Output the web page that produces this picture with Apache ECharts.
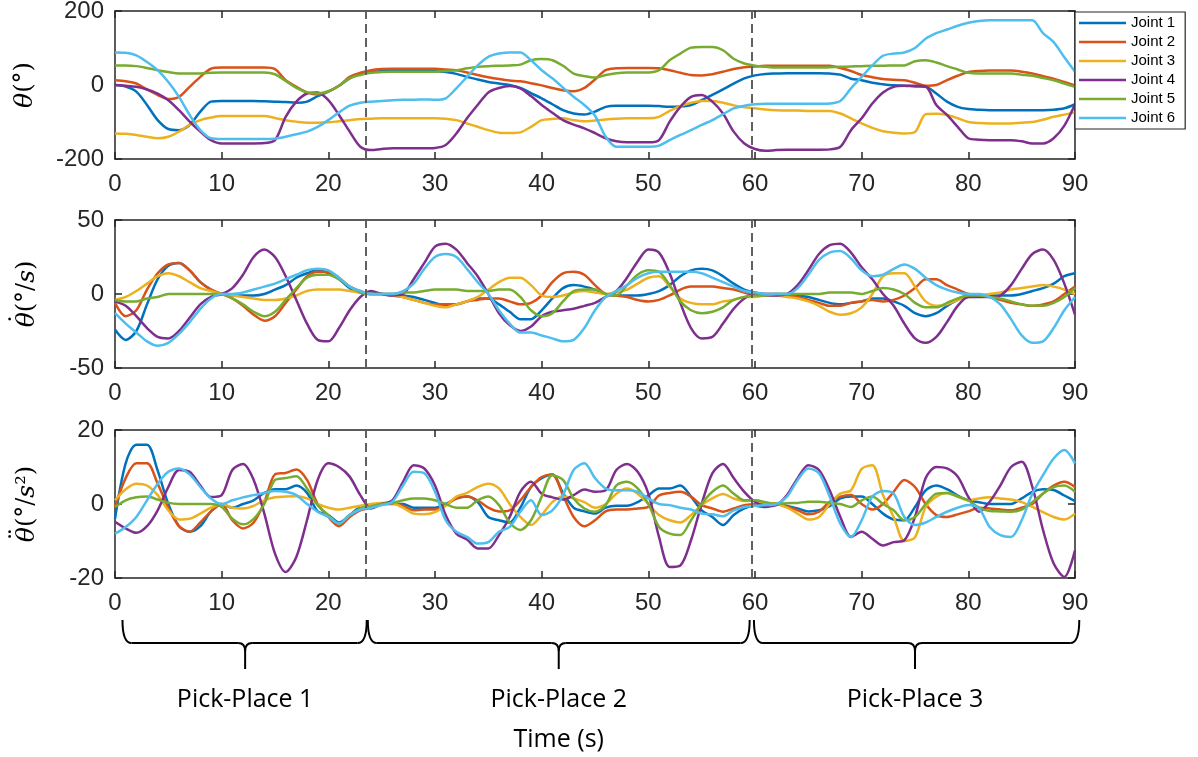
<!DOCTYPE html>
<html>
<head>
<meta charset="utf-8">
<script src="https://cdn.jsdelivr.net/npm/echarts/dist/echarts.min.js"></script>
<style>
  html, body { margin: 0; background: #fff; }
  #main { width: 1198px; height: 757px; }
</style>
</head>
<body>
<div id="main"></div>
<script>
// time samples (s)
const time = [0,1,2,3,4,5,6,7,8,9,10,11,12,13,14,15,16,17,18,19,20,21,22,23,24,25,26,27,28,29,30,
  31,32,33,34,35,36,37,38,39,40,41,42,43,44,45,46,47,48,49,50,51,52,53,54,55,56,57,58,59,60,
  61,62,63,64,65,66,67,68,69,70,71,72,73,74,75,76,77,78,79,80,81,82,83,84,85,86,87,88,89,90];

const jointNames = ['Joint 1', 'Joint 2', 'Joint 3', 'Joint 4', 'Joint 5', 'Joint 6'];
const jointColors = ['#0072BD', '#D95319', '#EDB120', '#7E2F8E', '#77AC30', '#4DBEEE'];

// joint angle (deg)
const posJ1 = [0,-4,-18,-54,-95,-119,-122,-108,-72,-45, -43,-43,-43,-43,-44,-45,-46,-48,-45,-30,
  -18,-2,18,30,35,37,38,38,38,38, 37,35,30,22,15,8,4,0,-8,-22, -36,-52,-68,-77,-80,-72,-59,-56,-56,-56,
  -56,-57,-59,-58,-54,-41,-27,-12,4,18, 26,30,31,32,32,32,32,31,28,17, 13,6,2,-1,-2,-4,-5,-23,-45,-59,
  -65,-67,-68,-68,-68,-68,-68,-68,-67,-63, -52];
const posJ2 = [13,10,4,-12,-27,-38,-32,-5,22,44, 47,47,47,47,47,43,13,-5,-20,-26,
  -17,-2,22,33,40,43,44,44,44,44, 44,42,40,34,27,21,16,12,10,5, -1,-8,-14,-17,-8,15,40,45,46,46,
  46,45,40,33,27,26,29,36,43,48, 50,52,52,52,52,52,52,52,46,38, 27,21,16,14,13,6,-2,0,13,25,
  35,38,39,39,39,36,31,24,17,8, -1];
const posJ3 = [-131,-132,-135,-140,-144,-140,-126,-108,-95,-88, -84,-84,-84,-84,-84,-89,-95,-99,-102,-102,
  -101,-98,-95,-92,-91,-90,-90,-90,-90,-90, -90,-91,-95,-104,-113,-122,-129,-130,-128,-113,
  -95,-92,-90,-95,-98,-96,-93,-91,-90,-90, -90,-86,-70,-57,-48,-43,-43,-48,-55,-60,
  -63,-66,-68,-69,-69,-70,-70,-70,-77,-90, -104,-116,-125,-129,-131,-127,-79,-78,-81,-90,
  -100,-103,-104,-104,-104,-102,-100,-94,-86,-80, -74];
const posJ4 = [0,-2,-5,-12,-23,-41,-68,-99,-126,-149, -158,-158,-158,-158,-157,-149,-86,-45,-23,-20,
  -41,-81,-126,-167,-176,-173,-171,-171,-171,-171, -170,-162,-131,-90,-54,-20,-8,-3,-9,-30,
  -54,-75,-95,-107,-117,-130,-144,-152,-155,-155, -155,-149,-99,-59,-32,-27,-45,-77,-126,-158,
  -173,-178,-176,-175,-175,-175,-175,-174,-167,-122, -90,-50,-20,-5,-2,-2,-4,-54,-81,-113,
  -144,-148,-149,-149,-149,-152,-158,-158,-144,-110, -52];
const posJ5 = [53,53,51,46,40,35,31,31,31,33, 34,34,34,34,34,29,11,-8,-20,-23,
  -17,-2,18,27,33,35,36,36,36,36, 36,38,40,45,49,51,52,53,55,67, 70,67,52,31,24,20,27,32,34,34,
  34,40,67,85,101,103,103,94,71,58, 52,49,47,47,47,47,47,48,49,50, 51,52,52,53,53,64,67,61,51,42,
  33,31,31,31,31,28,25,19,13,4, -5];
const posJ6 = [88,87,80,62,40,8,-32,-81,-122,-144, -146,-146,-146,-146,-146,-145,-140,-133,-126,-113,
  -95,-74,-56,-48,-45,-43,-41,-40,-40,-39, -40,-36,-9,22,53,76,85,88,88,67, 40,18,-7,-32,-54,-83,-140,-167,-167,-167,
  -167,-164,-149,-135,-122,-108,-95,-79,-63,-56, -52,-51,-51,-51,-51,-51,-51,-50,-43,-9,
  22,53,79,85,88,100,125,140,150,160, 168,173,175,175,175,175,175,140,116,75, 36];

// joint velocity (deg/s)
const velJ1 = [-24,-31,-25,-7,10,19,21,16,8,3, 0,-1,-1,-1,0,3,6,11,14,16, 14,10,4,1,0,0,0,-1,-2,-4,
  -6,-8,-7,-5,-3,-3,-7,-12,-17,-17, -11,-3,4,6,5,3,0,-1,-1,-1, 0,2,6,12,16,17,16,12,7,3,
  1,0,0,0,-1,-2,-4,-6,-7,-6, -5,-3,-3,-5,-8,-13,-15,-13,-8,-4, -1,-1,-1,-1,-1,0,2,4,7,12, 14];
const velJ2 = [-6,-15,-11,3,14,20,21,16,8,3, 0,-3,-8,-14,-18,-15,-6,3,12,15, 15,11,5,2,0,0,-1,-2,-4,-6,
  -7,-7,-7,-5,-4,-3,-3,-5,-7,-6, -1,8,14,15,13,6,0,-1,-2,-4, -5,-4,-1,3,5,5,5,4,3,1,
  -1,0,0,-1,-2,-4,-6,-8,-8,-6, -5,-4,-5,-4,-1,4,10,10,6,3, 0,-1,-2,-4,-6,-7,-8,-7,-5,0, 5];
const velJ3 = [-4,-2,2,7,12,14,12,8,4,2, 0,-1,-2,-3,-4,-4,-3,-1,2,3, 3,3,2,1,0,0,-1,-2,-4,-6,
  -8,-9,-7,-5,-2,3,8,11,11,6, -1,-2,-1,1,2,1,0,1,3,7, 11,12,5,-3,-6,-7,-7,-5,-4,-2,
  -2,-1,-1,-2,-3,-5,-8,-12,-14,-13, -9,0,12,14,14,5,-5,-8,-7,-4, -2,-1,0,1,3,4,5,6,5,3, 0];
const velJ4 = [-5,-8,-15,-23,-29,-30,-25,-16,-7,-2, 0,4,13,25,30,25,12,-4,-20,-31, -32,-23,-11,-2,2,0,-1,0,10,21,
  32,34,30,21,12,0,-13,-21,-25,-22, -15,-12,-11,-10,-8,-6,-2,2,11,22, 30,28,14,-6,-23,-30,-29,-20,-10,-3,
  0,-1,-1,0,6,16,27,33,34,28, 18,10,0,-8,-20,-30,-33,-29,-19,-8, -2,-2,-2,-1,6,17,27,30,23,7, -14];
const velJ5 = [-4,-5,-5,-3,-2,0,0,0,0,0, 0,-3,-7,-12,-15,-12,-4,4,11,13, 13,10,5,1,0,0,0,1,1,2,
  3,3,3,2,2,2,3,3,-2,-11, -15,-13,-5,2,3,3,0,-1,6,13, 16,15,6,-5,-11,-13,-12,-9,-4,-2,
  -1,-1,0,0,0,0,0,1,1,1, 0,2,4,3,0,-6,-9,-9,-6,-3, -1,-1,-2,-3,-5,-7,-8,-8,-6,-2, 4];
const velJ6 = [-13,-20,-26,-32,-35,-33,-27,-19,-10,-3, 0,0,1,3,5,7,10,13,16,17, 16,11,5,2,0,0,0,2,7,17,
  25,27,25,17,8,0,-11,-20,-26,-26, -28,-30,-32,-31,-23,-11,-2,2,6,11, 14,15,15,15,15,14,11,8,5,2,
  1,0,0,0,4,13,23,28,29,24, 16,12,13,17,20,17,11,6,3,1, 0,0,-2,-7,-17,-28,-33,-32,-23,-11, -2];

// joint acceleration (deg/s^2)
const accJ1 = [-4,11,16,16,9,0,-6,-7.5,-6,-2, 0,-1,0,1,3,4,4,5,3,-2, -3,-5,-3,-1,-1,0,0,0,-1,-1,
  -1,0,1.5,2,0.5,-3.5,-4.4,-5,-1,4.6, 7,8,3,-1,-2,-2.6,-1,-0.5,-0.5,0.5, 2.3,4.2,4.2,5,2,-1.7,-3.5,-5.7,-3,-1.2,
  -0.5,-0.8,0,-0.5,-1.2,-2,-1.7,-0.6,1.5,2, 2,0,-2.6,-4.2,-4.4,-0.8,3.7,5,4,2.3, 1,0.5,0,0,0,1.5,3.3,4,3.8,2.3, 0.8];
const accJ2 = [-0.8,7,11,11,5.5,-1,-6,-7.5,-5,-2, 0,-4.4,-6.6,-5,0.5,8,8.4,9.3,6.5,0, -3.5,-6,-3.5,-1.7,-1,0,0.3,-0.5,-1.7,-1.5,
  -1.5,-0.3,1.5,2,1,-1,-2,-1.7,1,4.6, 7.3,8,2.3,-3.5,-6,-4.4,-2,-1.5,-1.5,-1.2, -0.8,2.3,3,3.3,2,-0.3,-1.2,-2.1,-1.2,-0.3,
  0,0.2,0.2,-0.7,-1.7,-2.8,-2.1,0.6,2,2.4, 0,-1.5,0,3.3,6.5,4.6,0,-3,-3.5,-2.8, -2,-1,-1.2,-1.5,-1.7,-1,0,2.8,5,6, 4.6];
const accJ3 = [1,4,5.5,5,2.4,-1.7,-4.2,-4,-2.6,-1, 0,-1,-1.2,-0.5,1,1.8,2,2.1,1.5,0, -1,-1.5,-1,-0.5,0,0.3,0.2,-1,-2.6,-2.8,
  -2.2,-0.5,2,3,4.6,5.5,4.2,0,-3.5,-5.7, -3,0.5,2,1.5,0.5,-1,0,2.8,4.2,2.8, 0,-3,-4.4,-5,-3,-0.3,1.5,2.7,1.5,0.8,
  1,0.3,0,-1,-2.6,-4.2,-3.5,0,2.8,3.7, 9.5,10.5,2.4,-3.5,-10,-9,-0.8,2,3,2, 1,1.5,1.8,1.5,1.2,0.5,-0.8,-2.2,-3.5,-4.2, -2.6];
const accJ4 = [-4.8,-6.6,-7.8,-6,-1.7,4.6,9.2,8.7,5,1.9, 2.4,9.2,10.8,6.5,-2.6,-13.4,-18.4,-14.3,-4.4,6.5,
  11,10,7.4,2.4,-1.2,0,1,6,10.5,9.6, 5,-3,-8,-9.6,-12,-12,-8.4,-3.5,3.3,6, 2.8,1.8,1.2,2.4,3.9,3.3,3.7,9.2,10.8,8.7,
  2.8,-8.9,-17,-16.6,-9.8,0,8.3,10.8,7,3.3, 0.6,-0.6,-0.3,2.4,7,10.5,9.2,3.7,-3.5,-8.9,
  -7.5,-9.4,-11.2,-10.3,-9.8,-3.5,7,10,9.6,7.4, 1.9,-2.1,0.6,5,10,11.4,4.6,-7,-16.1,-19.7, -12.5];
const accJ5 = [-0.8,1,1.8,2,1.2,0.3,0,0,0,0, -0.8,-4,-5.5,-4,0,6.5,7,7.5,4.2,-0.3, -3,-5.3,-3,-1.2,-0.6,0,0.3,1,1.5,1.5,
  1,0,-1,-1,1,2,-0.3,-5,-7,-4.4, 2,7.8,6.5,1.5,-1.2,-2.1,-0.3,5,6,4.2, 0,-6.2,-8,-8.4,-4.4,0,3.3,5,2.8,1,
  1,0.5,0,0.2,0.3,0.6,0.6,0.3,0,-0.8, 1,2,0,-1.7,-4.4,-3.5,0,2.8,3,2, 1,-1,-1.9,-2,-2.1,-1.5,0.5,2.8,4.6,5, 3.3];
const accJ6 = [-8,-6.2,-3.5,1,5.5,8.7,9.6,8,4.6,1.5, 0,1,1.8,2.4,3,3.5,3.3,2.4,0,-2.1, -3.5,-5.3,-3,-1.5,-1,-0.3,0.6,5,8.7,8.3,
  3.3,-4.4,-7.5,-8.9,-10.7,-10.3,-7.5,-6.2,-2.1,1, -3,-1.7,2.4,9.2,11,7,4.2,3.7,3.7,3.3, 1.5,0,-0.3,-1,-1.5,-2.6,-2.8,-3.3,-1.7,-0.8,
  -0.5,-0.3,0,2,6.5,9.6,8.3,2,-5.3,-8.9, -4.4,2,3.5,2.8,-3.5,-5.7,-5,-3.5,-2.1,-1, -0.3,-1.2,-6.2,-8.4,-8.9,-4.4,2.8,7.8,12.3,14.6, 11];

// panel y ranges
const yMin = [-200, -50, -20];
const yMax = [200, 50, 20];
const yStep = [200, 50, 20];

// phase boundaries and braces (time, s)
const phaseBounds = [23.5, 59.7];
const braceStart = [0.7, 23.7, 59.9];
const braceEnd = [23.6, 59.5, 90.4];
const braceMid = [12.2, 41.6, 75];
const phaseLabels = ['Pick-Place 1', 'Pick-Place 2', 'Pick-Place 3'];

const panels = [
  [posJ1, posJ2, posJ3, posJ4, posJ5, posJ6],
  [velJ1, velJ2, velJ3, velJ4, velJ5, velJ6],
  [accJ1, accJ2, accJ3, accJ4, accJ5, accJ6]
];
// axis titles: dots over theta are put on a line of their own
const yNames = [
  '{t|θ}{u|(°)}',
  '{d|˙}\n{t|θ}{u|(°/}{t|s}{u|)}',
  '{d|¨}\n{t|θ}{u|(°/}{t|s}{u|²)}'
];

const axisColor = '#262626';
const tickFont = 'Liberation Sans, Arial, sans-serif';
const gridTops = [11, 220, 430];

const chart = echarts.init(document.getElementById('main'));

const grid = gridTops.map(top => ({ left: 115, top: top, width: 960, height: 148, outerBoundsMode: 'none' }));

const nameRich = {
  t: { fontFamily: 'DejaVu Serif', fontStyle: 'italic', fontSize: 25, color: '#000', align: 'left', lineHeight: 26 },
  u: { fontFamily: 'DejaVu Serif', fontSize: 24, color: '#000', align: 'left', lineHeight: 26 },
  d: { fontFamily: 'DejaVu Serif', fontSize: 25, color: '#000', align: 'left', lineHeight: 6,
       verticalAlign: 'top', padding: [0, 0, 0, 2] }
};

const xAxis = [];
const yAxis = [];
for (let i = 0; i < 3; i++) {
  const lineStyle = { color: axisColor, width: 1.5 };
  // bottom axis with labels
  xAxis.push({
    gridIndex: i, type: 'value', position: 'bottom', min: 0, max: 90, interval: 10,
    axisLine: { show: true, onZero: false, lineStyle },
    axisTick: { show: true, inside: true, length: 7, lineStyle },
    axisLabel: { fontSize: 24, color: axisColor, margin: 13, fontFamily: tickFont },
    splitLine: { show: false }
  });
  // top edge of the box
  xAxis.push({
    gridIndex: i, type: 'value', position: 'top', min: 0, max: 90, interval: 10,
    axisLine: { show: true, onZero: false, lineStyle },
    axisTick: { show: true, inside: true, length: 7, lineStyle },
    axisLabel: { show: false },
    splitLine: { show: false }
  });
  yAxis.push({
    gridIndex: i, type: 'value', position: 'left', min: yMin[i], max: yMax[i], interval: yStep[i],
    axisLine: { show: true, onZero: false, lineStyle },
    axisTick: { show: true, inside: true, length: 7, lineStyle },
    axisLabel: { fontSize: 24, color: axisColor, margin: 11, fontFamily: tickFont },
    splitLine: { show: false },
    name: yNames[i], nameLocation: 'middle', nameGap: i === 0 ? 77 : 75, nameRotate: 90,
    nameTextStyle: { color: '#000', rich: nameRich }
  });
  yAxis.push({
    gridIndex: i, type: 'value', position: 'right', min: yMin[i], max: yMax[i], interval: yStep[i],
    axisLine: { show: true, onZero: false, lineStyle },
    axisTick: { show: true, inside: true, length: 7, lineStyle },
    axisLabel: { show: false },
    splitLine: { show: false }
  });
}

const series = [];
panels.forEach((panel, i) => {
  panel.forEach((vals, j) => {
    const s = {
      name: jointNames[j],
      type: 'line',
      xAxisIndex: 2 * i,
      yAxisIndex: 2 * i,
      data: time.map((t, k) => [t, vals[k]]),
      showSymbol: false,
      smooth: 0.3,
      color: jointColors[j],
      lineStyle: { width: 2.5, color: jointColors[j] },
      emphasis: { disabled: true },
      z: 3
    };
    if (j === 0) {
      s.markLine = {
        silent: true,
        symbol: 'none',
        label: { show: false },
        lineStyle: { type: [9, 5], color: '#606060', width: 2 },
        data: phaseBounds.map(b => ({ xAxis: b }))
      };
    }
    series.push(s);
  });
});

chart.setOption({
  animation: false,
  backgroundColor: '#fff',
  grid,
  xAxis,
  yAxis,
  legend: {
    data: jointNames,
    orient: 'vertical',
    left: 1075,
    top: 12,
    icon: 'rect',
    itemWidth: 47,
    itemHeight: 2.5,
    itemGap: 0,
    padding: [1.5, 10, 1.5, 4],
    backgroundColor: '#fff',
    borderColor: axisColor,
    borderWidth: 1.2,
    borderRadius: 0,
    textStyle: { fontSize: 15, lineHeight: 19, color: '#000', fontFamily: tickFont },
    z: 10
  },
  series
});

// braces and phase labels under the bottom axis
const px = t => chart.convertToPixel({ xAxisIndex: 4 }, t);
const yTip = 620, yBar = 643, yPoint = 669;
const braceStyle = { stroke: '#000', lineWidth: 2, fill: null };
const graphics = [];
const curve = (x1, y1, cx, cy, x2, y2) => ({
  type: 'bezierCurve', silent: true,
  shape: { x1, y1, cpx1: cx, cpy1: cy, x2, y2 },
  style: braceStyle
});
const seg = pts => ({ type: 'polyline', silent: true, shape: { points: pts }, style: braceStyle });
braceStart.forEach((b, k) => {
  const xa = px(b), xb = px(braceEnd[k]), xm = px(braceMid[k]);
  graphics.push(curve(xa, yTip, xa, yBar, xa + 9, yBar));
  graphics.push(seg([[xa + 9, yBar], [xm - 7, yBar]]));
  graphics.push(curve(xm - 7, yBar, xm, yBar, xm, yBar + 8));
  graphics.push(curve(xm + 7, yBar, xm, yBar, xm, yBar + 8));
  graphics.push(seg([[xm, yBar + 8], [xm, yPoint]]));
  graphics.push(seg([[xm + 7, yBar], [xb - 9, yBar]]));
  graphics.push(curve(xb - 9, yBar, xb, yBar, xb, yTip));
  graphics.push({
    type: 'text', silent: true,
    x: xm, y: 700,
    style: {
      text: phaseLabels[k], fontSize: 25, fontFamily: 'Open Sans', fill: '#000',
      textAlign: 'center', textVerticalAlign: 'middle', align: 'center', verticalAlign: 'middle'
    }
  });
});
graphics.push({
  type: 'text', silent: true,
  x: px(braceMid[1]), y: 740,
  style: {
    text: 'Time (s)', fontSize: 25, fontFamily: 'Open Sans', fill: '#000',
    textAlign: 'center', textVerticalAlign: 'middle', align: 'center', verticalAlign: 'middle'
  }
});
chart.setOption({ graphic: graphics });
</script>
</body>
</html>
